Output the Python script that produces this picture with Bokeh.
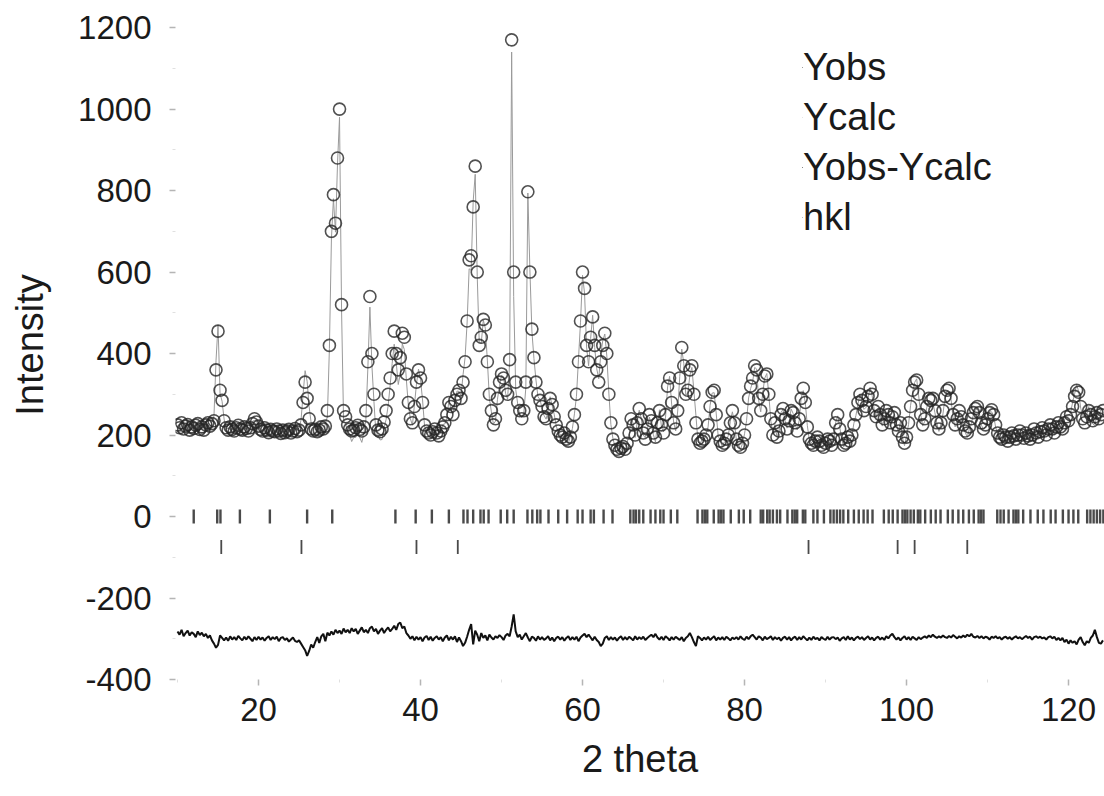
import numpy as np
from bokeh.plotting import figure
from bokeh.models import (Range1d, FixedTicker, Legend, LegendItem, ColumnDataSource,
                          PrintfTickFormatter)
from bokeh.embed import file_html
from bokeh.resources import INLINE

# ---------------- data ----------------
# observed intensity, 2-theta grid from 10.00 deg in 0.25 deg steps (one row per degree)
yobs = [
    225, 218, 230, 215,   # 10
    222, 226, 212, 220,   # 11
    216, 224, 228, 214,   # 12
    220, 212, 225, 230,   # 13
    222, 228, 235, 360,   # 14
    455, 310, 285, 235,   # 15
    218, 212, 220, 214,   # 16
    210, 218, 224, 215,   # 17
    212, 220, 216, 210,   # 18
    218, 228, 240, 232,   # 19
    222, 214, 210, 218,   # 20
    212, 206, 214, 210,   # 21
    208, 215, 210, 204,   # 22
    212, 206, 210, 214,   # 23
    205, 210, 216, 208,   # 24
    212, 225, 280, 330,   # 25
    290, 240, 215, 210,   # 26
    214, 208, 212, 220,   # 27
    215, 222, 260, 420,   # 28
    700, 790, 720, 880,   # 29
    1000, 520, 260, 245,  # 30
    225, 215, 210, 212,   # 31
    218, 224, 214, 210,   # 32
    220, 260, 380, 540,   # 33
    400, 300, 225, 212,   # 34
    208, 215, 232, 260,   # 35
    300, 340, 400, 455,   # 36
    400, 360, 390, 450,   # 37
    440, 350, 280, 240,   # 38
    230, 270, 330, 360,   # 39
    340, 280, 225, 210,   # 40
    205, 200, 208, 215,   # 41
    205, 198, 210, 220,   # 42
    230, 250, 280, 270,   # 43
    250, 285, 300, 310,   # 44
    290, 330, 380, 480,   # 45
    630, 640, 760, 860,   # 46
    600, 420, 440, 484,   # 47
    470, 380, 300, 260,   # 48
    225, 240, 290, 330,   # 49
    350, 340, 310, 300,   # 50
    385, 1170, 600, 330,  # 51
    280, 260, 240, 260,   # 52
    330, 797, 600, 460,   # 53
    390, 330, 300, 285,   # 54
    270, 245, 240, 265,   # 55
    290, 275, 245, 225,   # 56
    210, 200, 195, 205,   # 57
    190, 185, 195, 220,   # 58
    250, 300, 380, 480,   # 59
    600, 560, 420, 380,   # 60
    440, 490, 420, 360,   # 61
    330, 380, 420, 450,   # 62
    400, 300, 230, 190,   # 63
    175, 165, 160, 168,   # 64
    172, 165, 180, 205,   # 65
    240, 225, 200, 230,   # 66
    265, 240, 205, 190,   # 67
    215, 250, 235, 205,   # 68
    195, 230, 260, 225,   # 69
    205, 250, 320, 340,   # 70
    280, 230, 215, 260,   # 71
    340, 415, 370, 300,   # 72
    310, 360, 370, 300,   # 73
    230, 190, 180, 185,   # 74
    190, 200, 225, 270,   # 75
    305, 310, 250, 200,   # 76
    185, 175, 180, 190,   # 77
    200, 230, 260, 230,   # 78
    190, 175, 170, 180,   # 79
    200, 240, 290, 320,   # 80
    340, 370, 360, 290,   # 81
    260, 300, 345, 350,   # 82
    300, 240, 200, 230,   # 83
    195, 210, 250, 265,   # 84
    240, 215, 235, 260,   # 85
    255, 230, 210, 240,   # 86
    290, 315, 280, 220,   # 87
    190, 180, 175, 185,   # 88
    195, 185, 175, 170,   # 89
    180, 190, 185, 175,   # 90
    190, 230, 250, 215,   # 91
    190, 175, 180, 195,   # 92
    185, 200, 225, 250,   # 93
    280, 300, 285, 260,   # 94
    270, 295, 315, 300,   # 95
    260, 245, 270, 250,   # 96
    225, 240, 260, 250,   # 97
    230, 245, 255, 225,   # 98
    210, 230, 195, 180,   # 99
    195, 230, 270, 310,   # 100
    330, 335, 300, 250,   # 101
    225, 240, 270, 290,   # 102
    285, 290, 260, 230,   # 103
    215, 230, 260, 295,   # 104
    310, 315, 290, 250,   # 105
    225, 240, 260, 245,   # 106
    225, 210, 205, 220,   # 107
    240, 255, 265, 270,   # 108
    255, 230, 215, 225,   # 109
    240, 255, 262, 250,   # 110
    225, 205, 195, 190,   # 111
    200, 195, 185, 195,   # 112
    205, 198, 190, 200,   # 113
    210, 200, 192, 205,   # 114
    198, 190, 200, 215,   # 115
    205, 195, 208, 218,   # 116
    210, 200, 215, 225,   # 117
    215, 205, 220, 230,   # 118
    220, 215, 230, 245,   # 119
    235, 250, 270, 295,   # 120
    310, 305, 270, 240,   # 121
    230, 245, 260, 250,   # 122
    235, 245, 255, 240,   # 123
    250, 260,             # 124
]

# residual Yobs - Ycalc on the same grid
resid = [
    18, 10, 22, 6,     # 10
    14, 20, 8, 16,     # 11
    12, 4, 18, 9,      # 12
    15, 6, 12, 2,      # 13
    8, -4, -12, -22,   # 14
    -15, 8, 2, -4,     # 15
    3, -5, 6, -2,      # 16
    4, -3, 7, 1,       # 17
    -4, 5, -2, 6,      # 18
    0, -6, 4, -3,      # 19
    5, -2, 3, -5,      # 20
    2, 6, -3, 4,       # 21
    -1, 5, -6, 2,      # 22
    4, -3, 1, -7,      # 23
    -2, 3, -5, -8,     # 24
    -4, -12, -20, -28, # 25
    -42, -30, -14, -22,# 26
    -8, 4, -10, 6,     # 27
    12, -6, 15, 8,     # 28
    18, 10, 22, 14,    # 29
    20, 12, 25, 16,    # 30
    22, 14, 26, 18,    # 31
    24, 12, 20, 28,    # 32
    16, 22, 14, 26,    # 33
    30, 18, 24, 12,    # 34
    20, 26, 14, 22,    # 35
    28, 18, 24, 32,    # 36
    22, 36, 40, 26,    # 37
    30, 14, 8, 0,      # 38
    6, -4, 5, -2,      # 39
    4, -6, 3, 7,       # 40
    -3, 5, -5, 2,      # 41
    6, -2, 4, -6,      # 42
    3, 8, -4, 5,       # 43
    -2, 6, -8, 3,      # 44
    -6, -18, -10, 5,   # 45
    22, 36, -14, 20,   # 46
    10, -6, 14, 2,     # 47
    8, -4, 10, 3,      # 48
    -2, 6, 2, 9,       # 49
    4, -3, 8, 12,      # 50
    6, 30, 60, 18,     # 51
    4, 10, -2, 6,      # 52
    14, 3, -6, 5,      # 53
    2, -5, 6, -2,      # 54
    4, -3, 1, 6,       # 55
    -4, 3, -6, 2,      # 56
    5, -2, 4, -5,      # 57
    2, 6, -3, 4,       # 58
    -2, 5, -6, 3,      # 59
    8, 12, 4, 10,      # 60
    3, -4, 5, -3,      # 61
    -8, -18, -12, 2,   # 62
    6, -3, 4, -2,      # 63
    3, -5, 2, 6,       # 64
    -3, 4, -2, 5,      # 65
    1, -4, 6, -2,      # 66
    4, -1, 5, -3,      # 67
    2, 6, 10, 4,       # 68
    12, 3, -2, 5,      # 69
    -3, 6, 2, -4,      # 70
    4, -2, 5, 1,       # 71
    -3, 4, -6, 2,      # 72
    6, 14, 4, -8,      # 73
    -18, 6, 2, -4,     # 74
    3, -2, 5, -3,      # 75
    2, 6, -4, 3,       # 76
    -2, 4, -3, 5,      # 77
    1, -4, 3, -1,      # 78
    4, -2, 6, 0,       # 79
    -3, 5, -1, 6,      # 80
    10, 4, -2, 6,      # 81
    3, -4, 5, -1,      # 82
    2, 6, -3, 4,       # 83
    -1, 3, -5, 2,      # 84
    5, -2, 4, -4,      # 85
    2, 5, -3, 4,       # 86
    -2, 6, 1, -4,      # 87
    3, -3, 5, -1,      # 88
    2, -4, 4, 0,       # 89
    -3, 5, -2, 3,      # 90
    4, -1, 3, -5,      # 91
    1, 4, -3, 6,       # 92
    -2, 3, -4, 2,      # 93
    5, -1, 4, -3,      # 94
    2, 6, -2, 3,       # 95
    -4, 2, 5, -2,      # 96
    3, -3, 6, 1,       # 97
    8, 12, 4, -2,      # 98
    3, -4, 2, 6,       # 99
    -2, 4, -3, 5,      # 100
    1, -3, 4, -1,      # 101
    3, 6, 2, 8,        # 102
    4, 10, 5, 2,       # 103
    6, 3, 8, 4,        # 104
    2, 7, 3, 9,        # 105
    5, 1, 6, 3,        # 106
    8, 4, 10, 6,       # 107
    12, 5, 3, 7,       # 108
    2, 6, 1, 5,        # 109
    3, -2, 5, 2,       # 110
    6, 1, 4, -2,       # 111
    3, 5, 0, 4,        # 112
    -2, 3, 6, 1,       # 113
    4, -1, 3, 7,       # 114
    2, 5, -2, 4,       # 115
    6, 2, 5, 1,        # 116
    3, -2, 4, 6,       # 117
    1, 5, -3, 2,       # 118
    -4, 2, -8, -2,     # 119
    -12, -4, -10, -6,  # 120
    -14, -2, 4, -8,    # 121
    -16, -6, -10, 2,   # 122
    8, 22, 4, -10,     # 123
    -12, -4,           # 124
]

two_theta = 10.0 + 0.25 * np.arange(len(yobs))
ycalc = np.array(yobs) - np.array(resid)

# reflection positions (2-theta) of the two phases
hkl_phase1 = [
    12.0, 14.9, 15.3, 17.7, 21.4, 26.0, 29.1, 36.9, 39.4, 41.4, 43.5, 45.3, 45.8,
    46.5, 47.4, 47.8, 48.4, 49.9, 50.7, 51.5, 53.2, 53.8, 54.4, 54.8, 55.8, 57.0,
    58.1, 59.4, 60.0, 61.0, 61.4, 62.6, 63.7, 65.9, 66.3, 66.6, 67.0, 67.5, 68.4,
    69.0, 69.6, 70.0, 70.9, 71.7, 74.2, 74.8, 75.1, 75.4, 76.2, 76.8, 77.1, 77.4,
    78.3, 79.3, 79.9, 80.7, 82.0, 82.3, 82.8, 83.1, 83.5, 84.0, 84.4, 85.3, 85.9,
    86.2, 86.5, 87.2, 87.5, 88.5, 89.0, 89.8, 90.6, 91.0, 91.4, 91.8, 92.2, 92.8,
    93.5, 94.1, 94.7, 95.2, 95.8, 97.2, 97.8, 98.3, 98.9, 99.5, 99.8, 100.1, 100.5,
    100.9, 101.4, 101.7, 102.3, 103.0, 103.6, 104.2, 105.1, 105.7, 106.4, 107.0,
    107.7, 108.3, 108.9, 109.2, 109.5, 111.2, 111.6, 112.0, 112.6, 113.2, 113.5,
    113.8, 114.4, 115.3, 116.2, 116.9, 117.8, 118.4, 119.3, 120.0, 120.6, 121.2,
    122.3, 122.7, 123.1, 123.5, 123.9, 124.3,
]
hkl_phase2 = [15.4, 25.3, 39.5, 44.6, 87.9, 98.9, 101.0, 107.5]

x_ticks = [20, 40, 60, 80, 100, 120]
y_ticks = [-400, -200, 0, 200, 400, 600, 800, 1000, 1200]

legend_labels = ["Yobs", "Ycalc", "Yobs-Ycalc", "hkl"]

DIFF_OFFSET = -300
HKL_ROW1 = 0
HKL_ROW2 = -75

# ---------------- figure ----------------
FONT = "Liberation Sans"
p = figure(width=1104, height=796, output_backend="svg", toolbar_location=None,
           x_range=Range1d(9.75, 124.44), y_range=Range1d(-400, 1242),
           min_border_left=175, min_border_right=0, min_border_top=10,
           min_border_bottom=117)
p.outline_line_color = None
p.grid.visible = False
p.background_fill_color = "white"
p.border_fill_color = "white"

src = ColumnDataSource(dict(x=two_theta, yobs=yobs, ycalc=ycalc,
                            diff=np.array(resid) + DIFF_OFFSET))

r_calc = p.line("x", "ycalc", source=src, line_color="#9a9a9a", line_width=1)
r_obs = p.scatter("x", "yobs", source=src, marker="circle", size=12,
                  fill_color=None, line_color="#262626", line_width=1.6, line_alpha=0.8)
r_diff = p.line("x", "diff", source=src, line_color="#111111", line_width=2)

r_h1 = p.scatter(hkl_phase1, [HKL_ROW1] * len(hkl_phase1), marker="dash",
                 angle=np.pi / 2, size=14, line_color="#4a4a4a", line_width=2.4)
r_h2 = p.scatter(hkl_phase2, [HKL_ROW2] * len(hkl_phase2), marker="dash",
                 angle=np.pi / 2, size=14, line_color="#4a4a4a", line_width=1.8)

# axes
for ax in (p.xaxis[0], p.yaxis[0]):
    ax.axis_line_color = None
    ax.major_tick_line_color = "#b5b5b5"
    ax.major_tick_line_width = 1.5
    ax.major_tick_out = 6
    ax.major_tick_in = 0
    ax.minor_tick_line_color = "#e0e0e0"
    ax.minor_tick_out = 3
    ax.minor_tick_in = 0
    ax.major_label_text_font = FONT
    ax.major_label_text_font_size = "33px"
    ax.major_label_text_color = "#1a1a1a"
    ax.axis_label_text_font = FONT
    ax.axis_label_text_font_size = "38px"
    ax.axis_label_text_font_style = "normal"
    ax.axis_label_text_color = "#1a1a1a"
    ax.formatter = PrintfTickFormatter(format="%d")

p.xaxis.ticker = FixedTicker(ticks=x_ticks, minor_ticks=[10, 30, 50, 70, 90, 110])
p.yaxis.ticker = FixedTicker(ticks=y_ticks, minor_ticks=[-300, -100, 100, 300, 500, 700, 900, 1100])
p.xaxis.axis_label = "2 theta"
p.yaxis.axis_label = "Intensity"
p.xaxis.major_label_standoff = 12
p.xaxis.axis_label_standoff = 14
p.yaxis.major_label_standoff = 18
p.yaxis.axis_label_standoff = 24

legend = Legend(items=[
    LegendItem(label=legend_labels[0], renderers=[r_obs]),
    LegendItem(label=legend_labels[1], renderers=[r_calc]),
    LegendItem(label=legend_labels[2], renderers=[r_diff]),
    LegendItem(label=legend_labels[3], renderers=[r_h1, r_h2]),
], location="top_left", glyph_width=1, glyph_height=1, label_standoff=0,
    padding=0, margin=0, spacing=6, label_height=44,
    label_text_font=FONT, label_text_font_size="38px", label_text_color="#1a1a1a",
    label_text_baseline="middle",
    border_line_color=None, background_fill_alpha=0)
p.add_layout(legend)
# offset the legend block to its place inside the frame (screen pixels)
legend.margin = 0
legend.location = (627, 440)

open("out.html", "w").write(file_html(p, INLINE))
